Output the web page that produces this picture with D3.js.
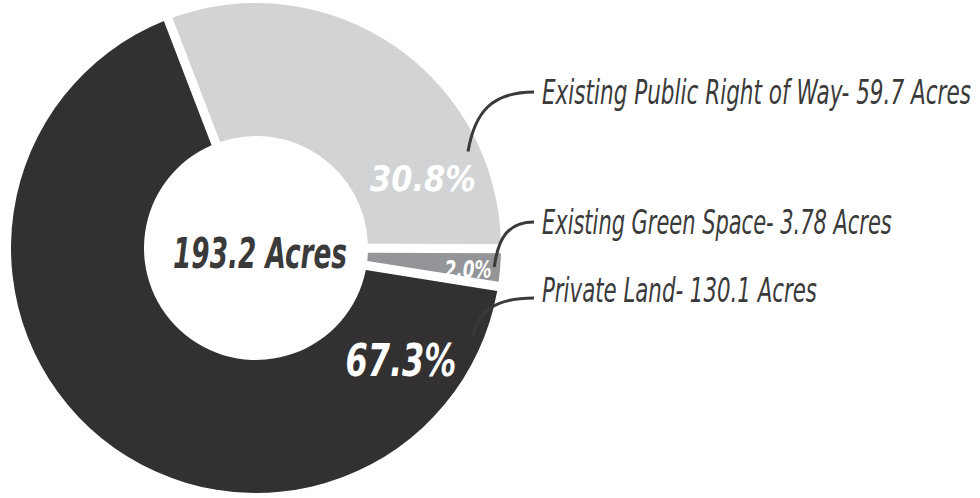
<!DOCTYPE html>
<html>
<head>
<meta charset="utf-8">
<script src="https://cdn.jsdelivr.net/npm/d3@7"></script>
<style>
  html, body { margin: 0; padding: 0; background: #ffffff; }
  svg { display: block; }
  text { font-family: "Liberation Sans Narrow", "DejaVu Sans Condensed", "Roboto", sans-serif; font-style: italic; }
</style>
</head>
<body>
<svg id="chart" width="980" height="498"></svg>
<script>
// Land use breakdown, in acres
const categories = ["Existing Public Right of Way", "Existing Green Space", "Private Land"];
const acres = [59.7, 3.78, 130.1];
const percentLabels = ["30.8%", "2.0%", "67.3%"];
const totalLabel = "193.2 Acres";
const sliceColors = ["#d1d3d4", "#939598", "#323031"];

const svg = d3.select("#chart");
const cx = 256, cy = 248;
const outerR = 245, innerR = 112;
const ink = "#3a3a3a";

const total = d3.sum(acres);
// The first slice finishes exactly at 3 o'clock; the rest follow clockwise.
const start = Math.PI / 2 - 2 * Math.PI * acres[0] / total;

const pie = d3.pie()
  .sort(null)
  .value(d => d)
  .startAngle(start)
  .endAngle(start + 2 * Math.PI)
  .padAngle(0.034);

const arc = d3.arc()
  .innerRadius(innerR)
  .outerRadius(outerR)
  .padRadius(Math.sqrt(innerR * innerR + outerR * outerR));

const arcs = pie(acres);

const g = svg.append("g").attr("transform", `translate(${cx},${cy})`);

g.selectAll("path.slice")
  .data(arcs)
  .join("path")
  .attr("class", "slice")
  .attr("d", arc)
  .attr("fill", (d, i) => sliceColors[i]);

// polar helper (angle measured clockwise from 12 o'clock)
const polar = (a, r) => [r * Math.sin(a), -r * Math.cos(a)];

// Condensed lettering: set the text at its size, then squeeze it horizontally
// to the wanted width so its box stays true.
function condensedText(parent, str, x, y, opts) {
  const t = parent.append("text")
    .attr("x", 0)
    .attr("y", 0)
    .attr("text-anchor", opts.anchor || "start")
    .attr("font-size", opts.size)
    .attr("font-weight", opts.weight || "normal")
    .attr("fill", opts.fill)
    .text(str);
  const natural = t.node().getComputedTextLength();
  const s = opts.width / natural;
  t.attr("transform", `translate(${x},${y}) scale(${s},1)`);
  return t;
}

// percentage labels inside the ring
const pctLayout = [
  { a: d => d.endAngle - 0.40, r: 181, size: 36, w: 106 },
  { a: d => (d.startAngle + d.endAngle) / 2 + 0.02, r: 213, size: 24, w: 47 },
  { a: d => d.startAngle + 0.50, r: 183, size: 45, w: 111 }
];

arcs.forEach((d, i) => {
  const L = pctLayout[i];
  const [x, y] = polar(L.a(d), L.r);
  condensedText(g, percentLabels[i], x, y + 0.36 * L.size, {
    anchor: "middle", size: L.size, weight: "bold", fill: "#ffffff", width: L.w
  });
});

// total in the hole
condensedText(g, totalLabel, 4, 20, {
  anchor: "middle", size: 43, weight: "bold", fill: ink, width: 174
});

// callout labels with curved leaders
const callouts = [
  { a: d => d.endAngle - 0.43, r: 233, baseline: 104, lineY: 92, w: 429 },
  { a: d => (d.startAngle + d.endAngle) / 2, r: 239, baseline: 234, lineY: 222, w: 350 },
  { a: d => d.startAngle + 0.23, r: 234, baseline: 302, lineY: 298, w: 275 }
];
const textX = 542, lineEndX = 534;

arcs.forEach((d, i) => {
  const C = callouts[i];
  const [px, py] = polar(C.a(d), C.r);
  const x0 = cx + px, y0 = cy + py;
  const x1 = lineEndX, y1 = C.lineY;
  const dx = x1 - x0, dy = Math.abs(y0 - y1);
  const p = d3.path();
  p.moveTo(x0, y0);
  p.bezierCurveTo(x0 + 0.1 * dx, y0 - 0.65 * dy, x0 + 0.35 * dx, y1, x1, y1);
  svg.append("path")
    .attr("d", p.toString())
    .attr("fill", "none")
    .attr("stroke", ink)
    .attr("stroke-width", 3);

  condensedText(svg, `${categories[i]}- ${acres[i]} Acres`, textX, C.baseline, {
    size: 34, fill: ink, width: C.w
  });
});
</script>
</body>
</html>
